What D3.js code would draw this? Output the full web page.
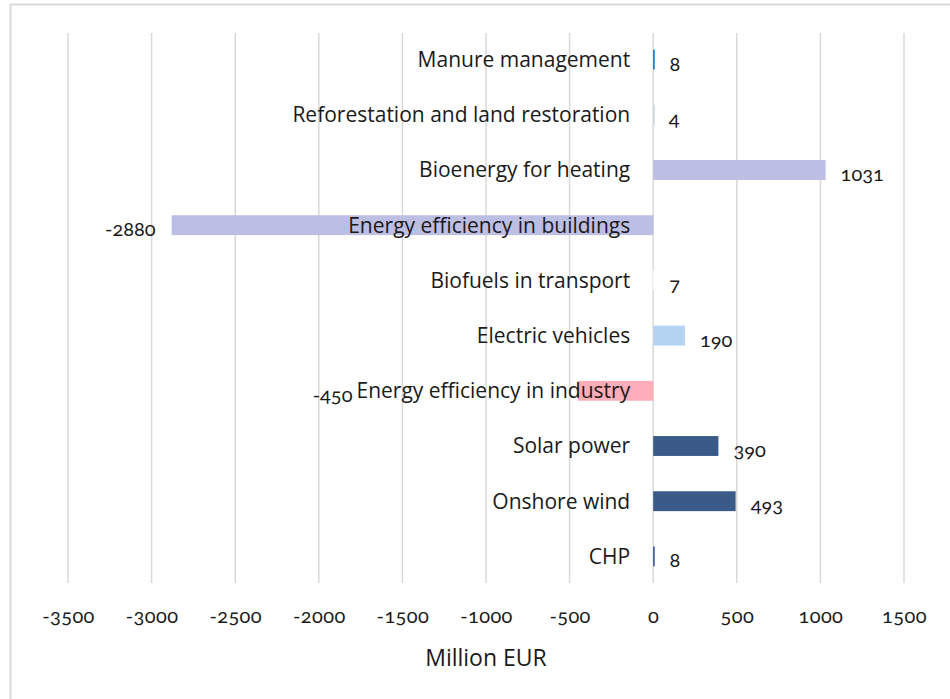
<!DOCTYPE html>
<html>
<head>
<meta charset="utf-8">
<script src="https://cdn.jsdelivr.net/npm/d3@7"></script>
<style>
    body { margin: 0; background: #fff; }
    .cat { font-family: "Open Sans", sans-serif; font-size: 21px; fill: #1a1a1a; }
    .val { font-family: Lato, sans-serif; font-size: 20px; fill: #1a1a1a; font-feature-settings: "onum"; }
    .tick text { font-family: Lato, sans-serif; font-size: 20px; letter-spacing: 0.4px; fill: #1a1a1a; font-feature-settings: "onum"; }
    .title { font-family: "Open Sans", sans-serif; font-size: 23px; fill: #1a1a1a; }
</style>
</head>
<body>
<div id="chart"></div>
<script>
// Data
const categories = ['Manure management', 'Reforestation and land restoration', 'Bioenergy for heating',
    'Energy efficiency in buildings', 'Biofuels in transport', 'Electric vehicles',
    'Energy efficiency in industry', 'Solar power', 'Onshore wind', 'CHP'];
const values = [8, 4, 1031, -2880, 7, 190, -450, 390, 493, 8];
const colors = ['#0070C0', '#C9D6E6', '#BCBEE3', '#BCBEE3', '#FFFFFF', '#B4D3F2',
    '#FFADB8', '#3A5A87', '#3A5A87', '#2F4F8F'];
const tickValues = [-3500, -3000, -2500, -2000, -1500, -1000, -500, 0, 500, 1000, 1500];

// Dimensions
const width = 950, height = 699;
const plot = { left: 68, right: 904, top: 32, bottom: 584 };

const svg = d3.select('#chart')
    .append('svg')
    .attr('width', width)
    .attr('height', height);

// Frame
svg.append('rect')
    .attr('x', 10.5).attr('y', 4.5)
    .attr('width', 960).attr('height', 720)
    .attr('fill', 'none')
    .attr('stroke', '#d9d9d9')
    .attr('stroke-width', 2);

// Scales
const xScale = d3.scaleLinear()
    .domain([-3500, 1500])
    .range([plot.left, plot.right]);

const yScale = d3.scaleBand()
    .domain(categories)
    .range([plot.top, plot.bottom])
    .paddingInner(0.64)
    .paddingOuter(0.32);

// Gridlines
svg.append('g')
    .selectAll('line')
    .data(tickValues)
    .join('line')
    .attr('x1', d => xScale(d)).attr('x2', d => xScale(d))
    .attr('y1', 33).attr('y2', 583)
    .attr('stroke', '#d9d9d9')
    .attr('stroke-width', 1.5);

// Axis (labels only)
const xAxis = d3.axisBottom(xScale)
    .tickValues(tickValues)
    .tickFormat(d => String(d))
    .tickSize(0)
    .tickPadding(0);

const axisG = svg.append('g')
    .attr('transform', 'translate(0,609)')
    .call(xAxis);
axisG.select('.domain').remove();
axisG.selectAll('.tick text')
    .attr('font-family', null).attr('font-size', null)
    .attr('fill', '#1a1a1a');

svg.append('text')
    .attr('class', 'title')
    .attr('text-anchor', 'middle')
    .attr('x', (plot.left + plot.right) / 2)
    .attr('y', 666)
    .text('Million EUR');

// Bars
const rows = categories.map((c, i) => ({ cat: c, value: values[i], color: colors[i] }));

svg.append('g')
    .selectAll('rect')
    .data(rows)
    .join('rect')
    .attr('x', d => xScale(Math.min(0, d.value)))
    .attr('y', d => yScale(d.cat))
    .attr('width', d => Math.max(1.5, Math.abs(xScale(d.value) - xScale(0))))
    .attr('height', yScale.bandwidth())
    .attr('fill', d => d.color);

// Category labels, right-aligned left of zero
const catText = svg.append('g')
    .selectAll('text')
    .data(rows)
    .join('text')
    .attr('class', 'cat')
    .attr('text-anchor', 'end')
    .attr('x', xScale(0) - 23)
    .attr('y', d => yScale(d.cat) + yScale.bandwidth() / 2)
    .attr('dy', '0.35em')
    .text(d => d.cat);

// Value labels
const catStart = catText.nodes().map(n => xScale(0) - 23 - n.getComputedTextLength());

svg.append('g')
    .selectAll('text')
    .data(rows)
    .join('text')
    .attr('class', 'val')
    .attr('text-anchor', d => d.value < 0 ? 'end' : 'start')
    .attr('x', (d, i) => d.value < 0
        ? Math.min(xScale(d.value) - 16, catStart[i] - 4)
        : xScale(d.value) + 15)
    .attr('y', d => yScale(d.cat) + yScale.bandwidth() / 2 + 4)
    .attr('dy', '0.35em')
    .text(d => d.value);
</script>
</body>
</html>
